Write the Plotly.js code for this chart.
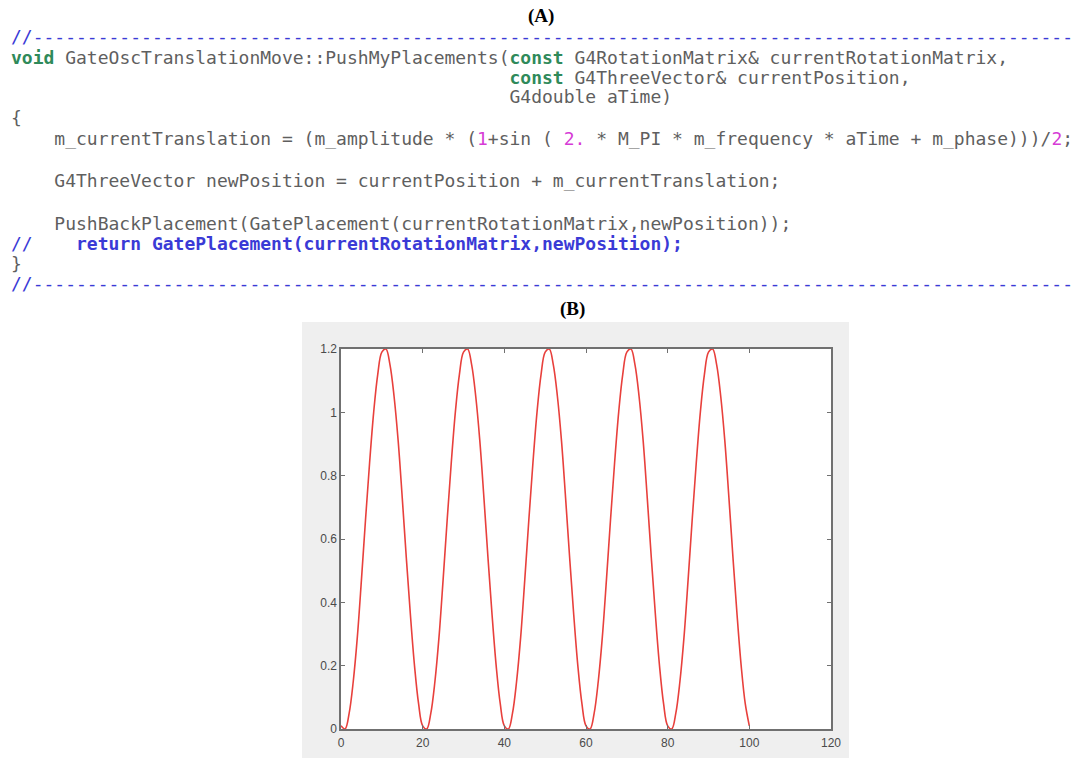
<!DOCTYPE html>
<html>
<head>
<meta charset="utf-8">
<script src="https://cdn.plot.ly/plotly-3.0.1.min.js"></script>
<style>
html,body{margin:0;padding:0;background:#fff;}
#chart{width:1081px;height:758px;}
</style>
</head>
<body>
<div id="chart"></div>
<script>
// ---- Data (panel B) ----
const timeValues = [
  0,1,2,3,4,5,6,7,8,9,10,11,12,13,14,15,16,17,18,19,
  20,21,22,23,24,25,26,27,28,29,30,31,32,33,34,35,36,37,38,39,
  40,41,42,43,44,45,46,47,48,49,50,51,52,53,54,55,56,57,58,59,
  60,61,62,63,64,65,66,67,68,69,70,71,72,73,74,75,76,77,78,79,
  80,81,82,83,84,85,86,87,88,89,90,91,92,93,94,95,96,97,98,99,100
];
const translationValues = [
  0.01,0.00,0.05,0.15,0.29,0.47,0.66,0.84,1.00,1.12,1.19,1.20,1.15,1.05,0.91,0.73,0.54,0.36,0.20,0.08,
  0.01,0.00,0.05,0.15,0.29,0.47,0.66,0.84,1.00,1.12,1.19,1.20,1.15,1.05,0.91,0.73,0.54,0.36,0.20,0.08,
  0.01,0.00,0.05,0.15,0.29,0.47,0.66,0.84,1.00,1.12,1.19,1.20,1.15,1.05,0.91,0.73,0.54,0.36,0.20,0.08,
  0.01,0.00,0.05,0.15,0.29,0.47,0.66,0.84,1.00,1.12,1.19,1.20,1.15,1.05,0.91,0.73,0.54,0.36,0.20,0.08,
  0.01,0.00,0.05,0.15,0.29,0.47,0.66,0.84,1.00,1.12,1.19,1.20,1.15,1.05,0.91,0.73,0.54,0.36,0.20,0.08,0.01
];
const xTicks = [0,20,40,60,80,100,120];
const xTickLabels = ['0','20','40','60','80','100','120'];
const yTicks = [0,0.2,0.4,0.6,0.8,1,1.2];
const yTickLabels = ['0','0.2','0.4','0.6','0.8','1','1.2'];

// ---- Code listing (panel A) ----
const C = {
  txt:'#5f5f5f', kw:'#2f8a5a', num:'#d63bd6', cm:'#3a3ad6'
};
function kw(s){return '<span style="color:'+C.kw+'"><b>'+s+'</b></span>';}
function num(s){return '<span style="color:'+C.num+'">'+s+'</span>';}
function cm(s){return '<span style="color:'+C.cm+'">'+s+'</span>';}
const dashes = '//' + '-'.repeat(96);
const sp = n => '&nbsp;'.repeat(n);
const codeLines = [
  {y:37,  t: cm(dashes)},
  {y:57,  t: kw('void')+' GateOscTranslationMove::PushMyPlacements('+kw('const')+' G4RotationMatrix&amp; currentRotationMatrix,'},
  {y:77,  t: sp(46)+kw('const')+' G4ThreeVector&amp; currentPosition,'},
  {y:97,  t: sp(46)+'G4double aTime)'},
  {y:118, t: '{'},
  {y:139, t: sp(4)+'m_currentTranslation = (m_amplitude * ('+num('1')+'+sin ( '+num('2.')+' * M_PI * m_frequency * aTime + m_phase)))/'+num('2')+';'},
  {y:181, t: sp(4)+'G4ThreeVector newPosition = currentPosition + m_currentTranslation;'},
  {y:223, t: sp(4)+'PushBackPlacement(GatePlacement(currentRotationMatrix,newPosition));'},
  {y:243, t: cm('//'+sp(4)+'<b>return GatePlacement(currentRotationMatrix,newPosition);</b>')},
  {y:263, t: '}'},
  {y:283, t: cm(dashes)}
];

const W = 1081, H = 758;
const px = v => v / W;
const py = v => 1 - v / H;

const annotations = codeLines.map(l => ({
  xref:'paper', yref:'paper', x: px(9), y: py(l.y),
  xanchor:'left', yanchor:'middle', showarrow:false, align:'left',
  text: l.t,
  font:{family:'DejaVu Sans Mono, Liberation Mono, monospace', size:18, color:C.txt}
}));
annotations.push({
  xref:'paper', yref:'paper', x: px(541), y: py(16), xanchor:'center', yanchor:'middle',
  showarrow:false, text:'<b>(A)</b>',
  font:{family:'Liberation Serif, DejaVu Serif, serif', size:19, color:'#000'}
});
annotations.push({
  xref:'paper', yref:'paper', x: px(572), y: py(309), xanchor:'center', yanchor:'middle',
  showarrow:false, text:'<b>(B)</b>',
  font:{family:'Liberation Serif, DejaVu Serif, serif', size:19, color:'#000'}
});

const trace = {
  x: timeValues, y: translationValues, type:'scatter', mode:'lines',
  line:{color:'#e8403c', width:1.6, shape:'spline', smoothing:1},
  hoverinfo:'skip'
};

const axisCommon = {
  showgrid:false, zeroline:false, showline:true, linecolor:'#707070', linewidth:1.6,
  mirror:'allticks', ticks:'inside', ticklen:4, tickcolor:'#707070', tickwidth:1,
  tickfont:{family:'Liberation Sans, Arial, sans-serif', size:12, color:'#4a4a4a'}
};

const layout = {
  width:W, height:H,
  margin:{l:0,r:0,t:0,b:0},
  paper_bgcolor:'#ffffff', plot_bgcolor:'rgba(0,0,0,0)',
  showlegend:false,
  xaxis: Object.assign({}, axisCommon, {
    domain:[px(341), px(831)], range:[0,120], tickmode:'array',
    tickvals:xTicks, ticktext:xTickLabels, ticklabelstandoff:2
  }),
  yaxis: Object.assign({}, axisCommon, {
    domain:[py(729), py(349)], range:[0,1.2], tickmode:'array',
    tickvals:yTicks, ticktext:yTickLabels
  }),
  shapes:[
    {type:'rect', xref:'paper', yref:'paper', x0:px(302), x1:px(849), y0:0, y1:py(322),
     fillcolor:'#efefef', line:{width:0}, layer:'below'},
    {type:'rect', xref:'x domain', yref:'y domain', x0:0, x1:1, y0:0, y1:1,
     fillcolor:'#ffffff', line:{width:0}, layer:'below'}
  ],
  annotations: annotations
};

Plotly.newPlot('chart', [trace], layout, {displayModeBar:false, staticPlot:true});
</script>
</body>
</html>
